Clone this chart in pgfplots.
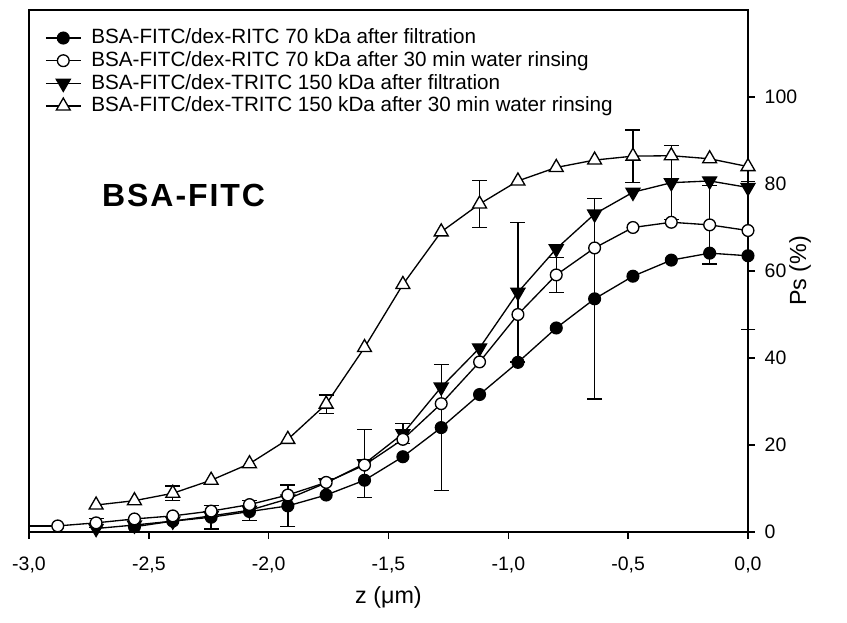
\documentclass[border=0pt]{standalone}
\usepackage{pgfplots}
\pgfplotsset{compat=1.18}
\usepackage{fontspec}
\setmainfont{Liberation Sans}
\begin{document}
\begin{tikzpicture}
\path[use as bounding box] (-21.75pt,-68.25pt) rectangle (613.5pt,399pt);
\begin{axis}[
 scale only axis, width=539.25pt, height=391.5pt,
 xmin=-3, xmax=0, ymin=0, ymax=120,
 clip=false,
 axis line style={line width=1.1pt},
 xtick={-3,-2.5,-2,-1.5,-1,-0.5,0},
 xticklabels={{-3,0},{-2,5},{-2,0},{-1,5},{-1,0},{-0,5},{0,0}},
 ytick={0,20,40,60,80,100},
 yticklabels={0,20,40,60,80,100},
 xtick pos=bottom, ytick pos=right,
 tick align=outside,
 major tick length=5.25pt,
 every tick/.style={black, line width=1.1pt},
 ticklabel style={font=\fontsize{14.6}{17}\selectfont},
 xticklabel style={yshift=-10pt},
 yticklabel style={xshift=3.75pt},
 xlabel={z (μm)}, ylabel={Ps (\%)},
 label style={font=\fontsize{17.5}{20}\selectfont},
 xlabel style={at={(axis description cs:0.5,-0.1245)}, anchor=center},
 ylabel style={at={(axis description cs:1.0723,0.5)}, anchor=center},
 legend style={at={(axis description cs:0.0223,0.9653)}, anchor=north west, draw=none, fill=none, inner sep=0pt, row sep=2.5pt, column sep=7.5pt, font=\fontsize{15.5}{17}\selectfont, nodes={inner sep=0pt, text height=11.5pt, text depth=3pt}},
 legend cell align=left,
 legend image code/.code={\draw[#1, mark repeat=2, mark phase=2] plot coordinates {(0pt,0pt) (13pt,0pt) (26pt,0pt)};},
]
\addlegendimage{black, line width=1pt, mark=*, mark size=4.4pt, mark options={fill=black}}
\addlegendentry{BSA-FITC/dex-RITC 70 kDa after filtration}
\addlegendimage{black, line width=1pt, mark=*, mark size=4.4pt, mark options={fill=white}}
\addlegendentry{BSA-FITC/dex-RITC 70 kDa after 30 min water rinsing}
\addlegendimage{black, line width=1pt, mark=triangle*, mark size=6pt, mark options={fill=black, rotate=180}}
\addlegendentry{BSA-FITC/dex-TRITC 150 kDa after filtration}
\addlegendimage{black, line width=1pt, mark=triangle*, mark size=6pt, mark options={fill=white}}
\addlegendentry{BSA-FITC/dex-TRITC 150 kDa after 30 min water rinsing}

% error bars
\addplot[forget plot, only marks, mark=none, black, line width=1pt, error bars/.cd, y dir=both, y explicit, error bar style={line width=1pt, black}, error mark=-, error mark options={rotate=90, black, mark size=5.6pt, line width=1pt}] table[x=x, y=y, y error=e] {
x y e
-1.92 6.0 4.8
-1.28 24.0 14.5
-0.64 53.6 23
0 63.5 17
-2.24 3.4 2.7
-2.08 5.0 2.3
-1.60 15.7 7.8
-1.44 22.6 2.3
-0.96 55.1 16
-0.32 80.3 8.5
-2.72 2.1 1.0
-0.80 59.1 4.0
-0.16 70.6 9.0
-2.40 8.9 1.7
-1.76 29.4 2.1
-1.12 75.4 5.4
-0.48 86.4 6.0
};

% open circle leading segment
\addplot[forget plot, black, line width=1pt, mark=none] coordinates {(-3,1.4) (-2.88,1.4)};

% filled circles
\addplot[forget plot, black, line width=1pt, mark=*, mark size=4.4pt, mark options={fill=black}] table {
-2.56 1.2
-2.40 2.5
-2.24 3.4
-2.08 4.7
-1.92 6.0
-1.76 8.5
-1.60 11.9
-1.44 17.3
-1.28 24.0
-1.12 31.6
-0.96 39.0
-0.80 46.9
-0.64 53.6
-0.48 58.8
-0.32 62.5
-0.16 64.1
0 63.5
};
% filled triangles
\addplot[forget plot, black, line width=1pt, mark=triangle*, mark size=6pt, mark options={fill=black, rotate=180}] table {
-2.72 0.8
-2.56 1.6
-2.40 2.5
-2.24 3.7
-2.08 5.0
-1.92 7.6
-1.76 11.3
-1.60 15.7
-1.44 22.6
-1.28 33.3
-1.12 42.3
-0.96 55.1
-0.80 65.1
-0.64 73.1
-0.48 78.1
-0.32 80.3
-0.16 80.7
0 79.2
};
% open circles
\addplot[forget plot, black, line width=1pt, mark=*, mark size=4.4pt, mark options={fill=white}] table {
-2.88 1.4
-2.72 2.1
-2.56 3.0
-2.40 3.7
-2.24 4.8
-2.08 6.3
-1.92 8.5
-1.76 11.4
-1.60 15.4
-1.44 21.3
-1.28 29.5
-1.12 39.1
-0.96 50.0
-0.80 59.1
-0.64 65.3
-0.48 70.0
-0.32 71.2
-0.16 70.6
0 69.3
};
% open triangles
\addplot[forget plot, black, line width=1pt, mark=triangle*, mark size=6pt, mark options={fill=white}] table {
-2.72 6.2
-2.56 7.2
-2.40 8.9
-2.24 11.9
-2.08 15.7
-1.92 21.3
-1.76 29.4
-1.60 42.4
-1.44 56.9
-1.28 69.0
-1.12 75.4
-0.96 80.7
-0.80 83.8
-0.64 85.5
-0.48 86.4
-0.32 86.5
-0.16 85.8
0 84.0
};

\node[font=\fontsize{24}{28}\selectfont\bfseries\addfontfeature{LetterSpace=6}, anchor=center, inner sep=0pt] at (axis cs:-2.355,77.4) {BSA-FITC};
\end{axis}
\end{tikzpicture}
\end{document}
